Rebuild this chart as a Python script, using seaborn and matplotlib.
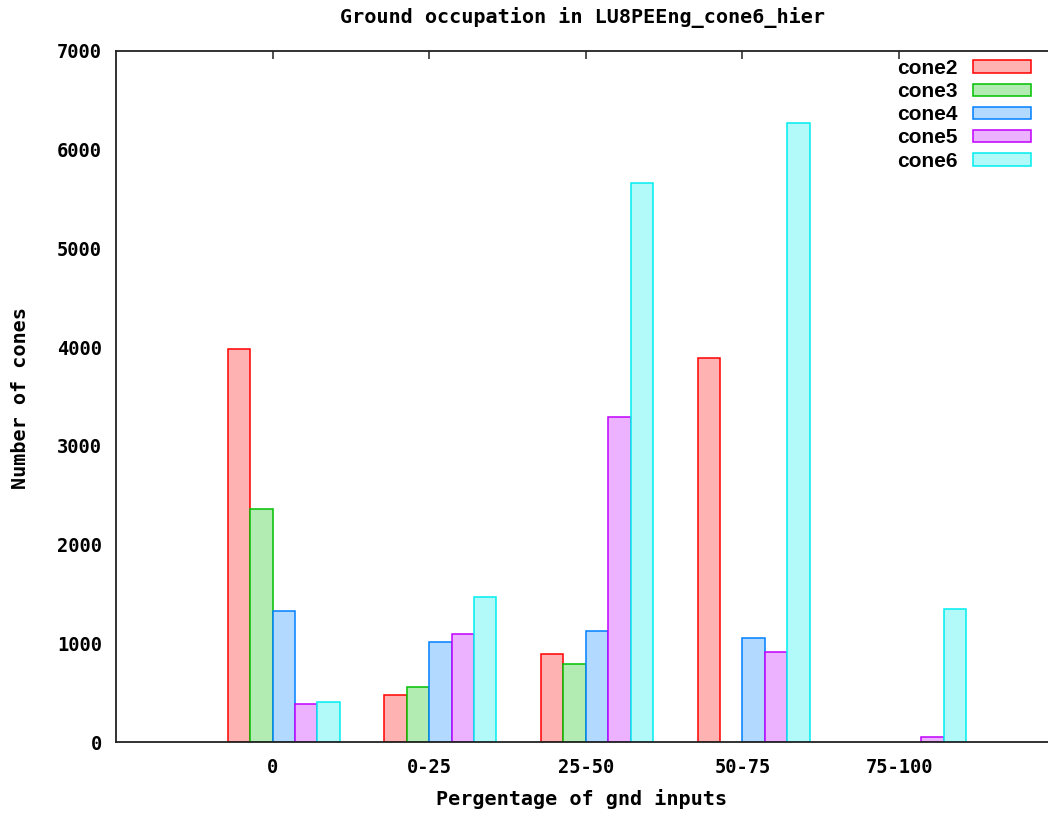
import numpy as np
import pandas as pd
import matplotlib
matplotlib.use('Agg')
import matplotlib.pyplot as plt
from matplotlib.patches import Patch
import seaborn as sns

# values
ranges = ['0', '0-25', '25-50', '50-75', '75-100']
series = ['cone2', 'cone3', 'cone4', 'cone5', 'cone6']
cone2 = [3980, 476, 897, 3890, 0]
cone3 = [2365, 563, 792, 0, 0]
cone4 = [1332, 1018, 1123, 1056, 0]
cone5 = [388, 1093, 3292, 914, 57]
cone6 = [405, 1474, 5658, 6268, 1349]

# gnuplot-like colours: solid border, 30% fill
edges = ['#ff0000', '#00c000', '#0080ff', '#c000ff', '#00eeee']
fills = ['#ffb2b2', '#b2ecb2', '#b2d9ff', '#ecb2ff', '#b2fafa']

rows = []
for name, vals in zip(series, [cone2, cone3, cone4, cone5, cone6]):
    for r, v in zip(ranges, vals):
        rows.append({'range': r, 'series': name, 'cones': v})
df = pd.DataFrame(rows)

sns.set_theme(style='white')
plt.rcParams['font.family'] = ['DejaVu Sans Mono']
plt.rcParams['text.color'] = 'black'
plt.rcParams['axes.labelcolor'] = 'black'

fig = plt.figure(figsize=(10.48, 8.14), dpi=100)
W, H = 1048, 814
left, right, top, bottom = 116, 1055.7, 50.7, 742.3
ax = fig.add_axes([left / W, 1 - bottom / H, (right - left) / W, (bottom - top) / H])

sns.barplot(data=df, x='range', y='cones', hue='series', order=ranges,
            hue_order=series, palette=fills, width=5 / 7, gap=0,
            saturation=1, linewidth=1.1, legend=False, ax=ax)

for cont, ec in zip(ax.containers, edges):
    for p in cont.patches:
        p.set_edgecolor(ec)
        if p.get_height() == 0:
            p.set_visible(False)

shift = 1 / 14
ax.set_xticks(np.arange(len(ranges)) - shift)
ax.set_xticklabels(ranges)
ax.set_xlim(-1 - shift, 5 - shift)
ax.set_ylim(0, 7000)
ax.set_yticks(np.arange(0, 7001, 1000))

for s in ax.spines.values():
    s.set_visible(True)
    s.set_color('#222222')
    s.set_linewidth(1.3)

ax.tick_params(axis='both', direction='in', length=6, width=1.1, color='#222222',
               top=True, right=True, labelsize=13.5, labelcolor='black')
ax.tick_params(axis='y', pad=10)
ax.tick_params(axis='x', pad=11)
for lab in ax.get_xticklabels() + ax.get_yticklabels():
    lab.set_fontweight('bold')

ax.set_xlabel('Pergentage of gnd inputs', fontsize=14.5, fontweight='bold')
ax.set_ylabel('Number of cones', fontsize=14.5, fontweight='bold')
ax.xaxis.set_label_coords((582 - left) / (right - left), (bottom - 789) / (bottom - top))
ax.yaxis.set_label_coords((30 - left) / (right - left), (bottom - 398) / (bottom - top))

fig.text(582 / W, 1 - 17 / H, 'Ground occupation in LU8PEEng_cone6_hier',
         ha='center', va='center', fontsize=14.5, fontweight='bold')

handles = [Patch(facecolor=f, edgecolor=e, linewidth=1.1) for f, e in zip(fills, edges)]
leg = ax.legend(handles, series, loc='upper right', frameon=False, markerfirst=False,
                bbox_to_anchor=((1031 - left) / (right - left), (bottom - 59) / (bottom - top)),
                borderaxespad=0, borderpad=0, handlelength=2.8, handleheight=0.55,
                handletextpad=0.7, labelspacing=0.2,
                prop={'family': 'Liberation Sans', 'weight': 'bold', 'size': 15})

fig.savefig('out.png', dpi=100)
